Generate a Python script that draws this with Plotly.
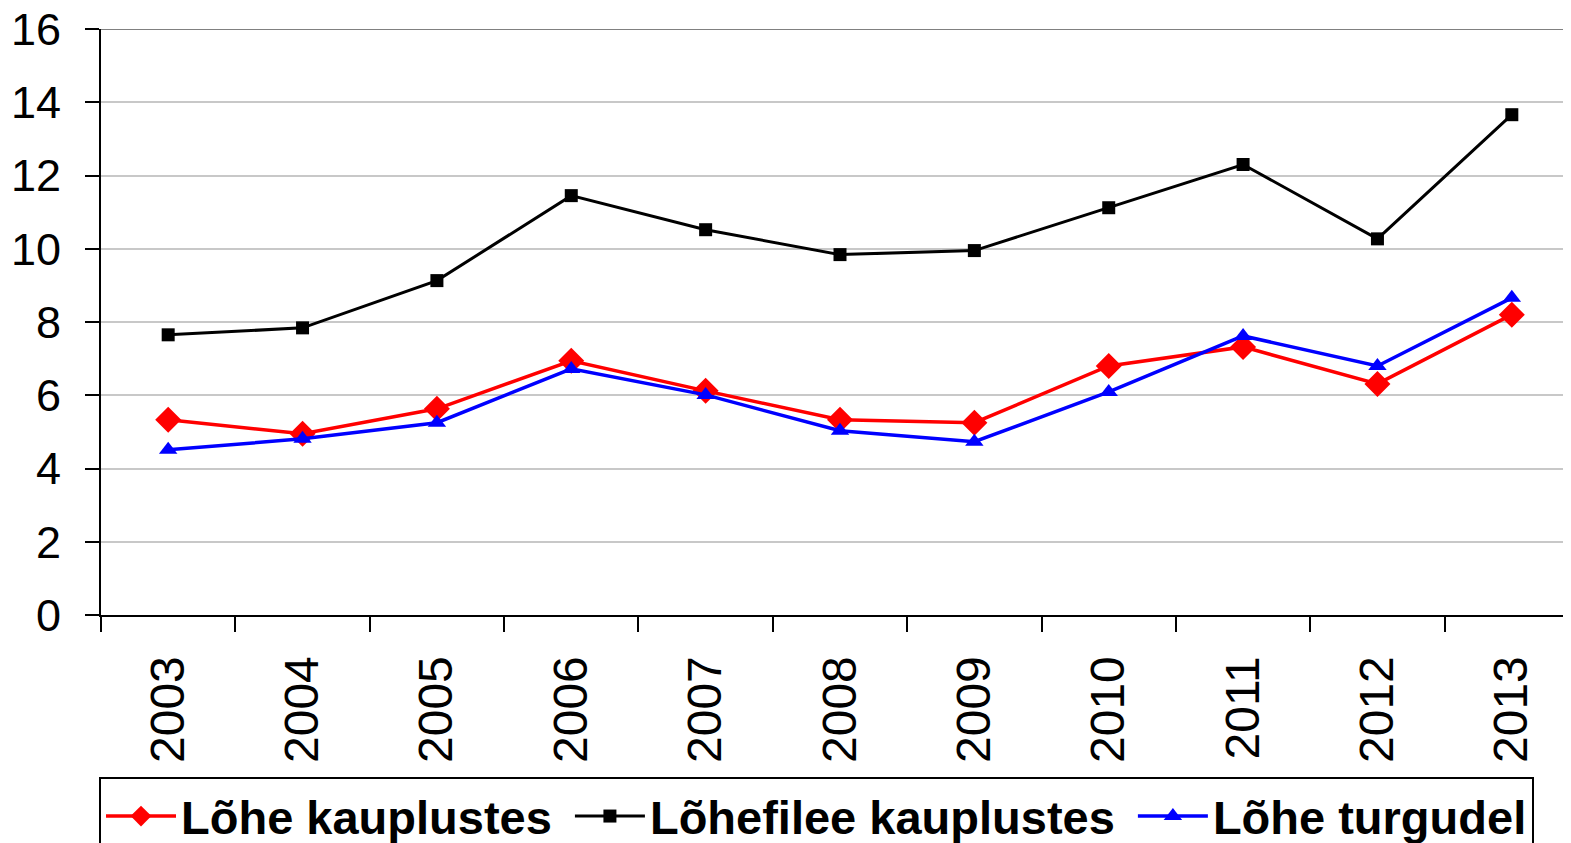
import plotly.graph_objects as go

# Data
years = ["2003", "2004", "2005", "2006", "2007", "2008",
         "2009", "2010", "2011", "2012", "2013"]
lohe_kauplustes = [5.33, 4.95, 5.63, 6.94, 6.12, 5.33, 5.25, 6.80, 7.32, 6.31, 8.20]
lohefilee_kauplustes = [7.65, 7.84, 9.13, 11.45, 10.52, 9.84, 9.95, 11.12, 12.30, 10.27, 13.66]
lohe_turgudel = [4.51, 4.81, 5.25, 6.72, 6.01, 5.03, 4.73, 6.09, 7.62, 6.80, 8.66]
y_ticks = [0, 2, 4, 6, 8, 10, 12, 14, 16]

FONT = "Arial, Liberation Sans, sans-serif"
NBSP = "\u00a0"

fig = go.Figure()

fig.add_trace(go.Scatter(
    x=years, y=lohe_kauplustes, name="Lõhe kauplustes" + NBSP,
    mode="lines+markers",
    line=dict(color="#FF0000", width=3.5),
    marker=dict(symbol="diamond", size=20, color="#FF0000"),
))
fig.add_trace(go.Scatter(
    x=years, y=lohefilee_kauplustes, name="Lõhefilee kauplustes" + NBSP,
    mode="lines+markers",
    line=dict(color="#000000", width=3),
    marker=dict(symbol="square", size=13, color="#000000"),
))
fig.add_trace(go.Scatter(
    x=years, y=lohe_turgudel, name="Lõhe turgudel",
    mode="lines+markers",
    line=dict(color="#0000FF", width=3.5),
    marker=dict(symbol="triangle-up", size=16, color="#0000FF"),
))

# grey top border line at 16
fig.add_shape(type="line", xref="paper", yref="y", x0=0, x1=1, y0=16, y1=16,
              line=dict(color="#808080", width=2))

# the page body adds an 8px offset, margins compensate for it
fig.update_layout(
    width=1571,
    height=843,
    margin=dict(l=93, r=0, t=21, b=236, autoexpand=False),
    paper_bgcolor="white",
    plot_bgcolor="white",
    font=dict(family=FONT, size=44, color="black"),
    showlegend=True,
    legend=dict(
        orientation="h",
        xref="container", yref="container",
        x=91 / 1571, xanchor="left",
        y=(843 - 769) / 843, yanchor="top",
        font=dict(family=FONT, size=47, color="black", weight="bold"),
        bordercolor="black",
        borderwidth=2,
        bgcolor="white",
        itemwidth=70,
        tracegroupgap=0,
    ),
)

fig.update_xaxes(
    type="category",
    range=[-0.5, 10.5],
    tickson="boundaries",
    ticks="outside",
    ticklen=15,
    tickwidth=2,
    tickcolor="black",
    tickangle=-90,
    tickfont=dict(family=FONT, size=48, color="black"),
    showline=True,
    linecolor="black",
    linewidth=2,
    showgrid=False,
    zeroline=False,
    ticklabelstandoff=20,
    ticklabeloverflow="allow",
)

fig.update_yaxes(
    range=[0, 16],
    tickvals=y_ticks,
    ticks="outside",
    ticklen=14,
    tickwidth=2,
    tickcolor="black",
    tickfont=dict(family=FONT, size=45, color="black"),
    showline=True,
    linecolor="black",
    linewidth=2,
    showgrid=True,
    gridcolor="#C8C8C8",
    gridwidth=2,
    zeroline=False,
    ticklabelstandoff=15,
    ticklabeloverflow="allow",
)

fig.write_html("out.html")
